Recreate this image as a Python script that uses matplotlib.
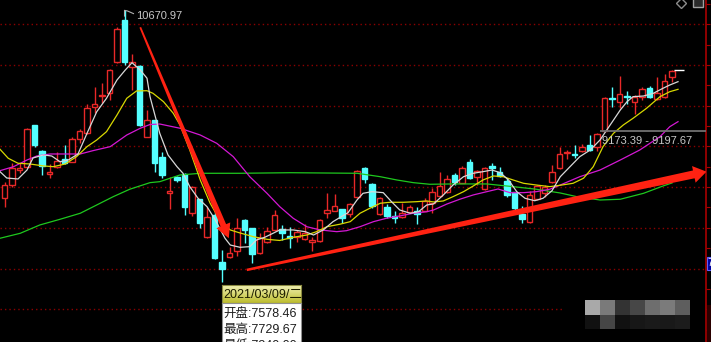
import matplotlib
matplotlib.use('Agg')
import matplotlib.pyplot as plt
from matplotlib.patches import Rectangle, Polygon
import numpy as np

# 日K数据 (从截图读取的近似值)
opens = [8370, 8526, 8710, 8744, 9259, 8947, 8661, 8751, 8845, 8812,
         9091, 9161, 9480, 9619, 9652, 10033, 10552, 9972, 9991, 9119,
         9324, 8874, 8428, 8628, 8661, 8179, 8351, 7884, 8158, 7578.46,
         7646, 7719, 8096, 7995, 7687, 7823, 7974, 7982, 7904, 7884,
         7859, 7823, 7842, 8179, 8211, 8228, 8166, 8375, 8731, 8538,
         8166, 8252, 8146, 8137, 8198, 8207, 8211, 8302, 8395, 8437,
         8653, 8554, 8805, 8628, 8473, 8763, 8690, 8575, 8437, 8166,
         8075, 8358, 8432, 8559, 8731, 8916, 8901, 8947, 9017, 8997,
         9193, 9591, 9542, 9625, 9549, 9611, 9714, 9579, 9611, 9849]
highs = [8567, 8800, 8800, 9225, 9265, 8955, 8784, 8935, 9017, 9119,
         9210, 9517, 9726, 9775, 9945, 10470, 10670.97, 10135, 10000, 9447,
         9330, 8935, 8628, 8640, 8670, 8510, 8360, 8260, 8219, 7729.67,
         7769, 8117, 8110, 8000, 7933, 8007, 8219, 8035, 8010, 7974,
         8047, 7884, 8110, 8432, 8416, 8235, 8300, 8710, 8751, 8555,
         8383, 8293, 8207, 8302, 8280, 8252, 8367, 8486, 8682, 8649,
         8670, 8760, 8842, 8710, 8751, 8793, 8744, 8608, 8445, 8272,
         8453, 8525, 8526, 8772, 8997, 8956, 9017, 9030, 9140, 9168,
         9611, 9726, 9865, 9684, 9632, 9726, 9742, 9856, 9889, 9940]
lows = [8252, 8502, 8670, 8730, 8997, 8649, 8616, 8731, 8790, 8805,
        9038, 9150, 9407, 9530, 9570, 10020, 10000, 9693, 9250, 9110,
        8690, 8612, 8228, 8563, 8158, 8146, 7995, 7875, 7615, 7340,
        7630, 7654, 7818, 7568, 7680, 7815, 7965, 7851, 7753, 7830,
        7850, 7719, 7830, 8121, 8205, 8063, 8133, 8365, 8547, 8240,
        8160, 8117, 8063, 8125, 8182, 8044, 8205, 8179, 8385, 8425,
        8526, 8545, 8600, 8526, 8465, 8588, 8625, 8383, 8219, 8056,
        8065, 8340, 8383, 8550, 8720, 8842, 8854, 8932, 8944, 8947,
        9190, 9488, 9468, 9521, 9398, 9570, 9600, 9570, 9600, 9795]
closes = [8526, 8731, 8735, 9214, 9017, 8763, 8690, 8817, 8800, 9091,
          9193, 9468, 9525, 9632, 9935, 10442, 10040, 10040, 9263, 9324,
          8800, 8649, 8449, 8588, 8260, 8505, 8063, 8137, 7626, 7491,
          7687, 7995, 7974, 7679, 7872, 7961, 8158, 7933, 7875, 7945,
          7933, 7851, 8096, 8219, 8272, 8117, 8293, 8702, 8600, 8268,
          8363, 8146, 8117, 8179, 8260, 8170, 8333, 8444, 8518, 8596,
          8567, 8739, 8608, 8702, 8731, 8739, 8637, 8403, 8240, 8105,
          8403, 8514, 8498, 8690, 8907, 8935, 8890, 8997, 8956, 9149,
          9591, 9580, 9640, 9612, 9603, 9701, 9611, 9660, 9807, 9930]

# 均线 (K线序号, 价格)
ma5_x = [-0.6, 0.3, 1.8, 3.0, 3.8, 5.2, 6.3, 7.4, 8.5, 9.8, 11.0, 12.3, 13.6, 15.0, 16.1, 17.0,
         18.1, 19.0, 19.4, 20.7, 21.8, 23.0, 23.8, 24.7, 25.8, 27.0, 28.1, 29.4, 30.1, 31.4,
         32.7, 33.6, 34.7, 35.8, 36.7, 38.5, 40.1, 41.2, 42.5, 43.8, 44.9, 45.8, 47.0, 47.8,
         49.0, 50.5, 51.6, 52.7, 54.1, 55.2, 56.3, 57.2, 58.5, 59.8, 61.2, 62.5, 63.8, 65.0,
         66.1, 67.2, 68.3, 69.4, 70.7, 71.8, 73.0, 74.1, 75.4, 76.7, 78.1, 79.4, 80.3, 81.2,
         82.1, 83.0, 83.8, 85.2, 86.5, 87.8, 88.7, 89.8]
ma5_y = [8690, 8612, 8600, 8710, 8858, 8895, 8882, 8812, 8833, 8907, 9161, 9426, 9591, 9816, 9938, 10028,
         9938, 9837, 9611, 9161, 8895, 8751, 8670, 8506, 8363, 8260, 8097, 7872, 7789, 7761,
         7769, 7851, 7884, 7933, 7974, 7974, 7953, 7912, 7974, 8076, 8137, 8186, 8342, 8424,
         8444, 8432, 8321, 8219, 8179, 8198, 8281, 8293, 8403, 8526, 8628, 8670, 8690, 8710,
         8677, 8588, 8444, 8363, 8333, 8363, 8456, 8628, 8751, 8874, 8956, 9079, 9202, 9324,
         9447, 9549, 9611, 9619, 9652, 9714, 9754, 9795]
ma10_x = [-0.6, 0.5, 1.8, 3.4, 5.2, 6.5, 8.1, 9.6, 11.0, 12.3, 13.6, 15.0, 16.3, 17.6, 19.0, 19.8,
          21.2, 22.5, 23.4, 24.7, 26.1, 27.4, 28.7, 30.1, 31.4, 33.2, 35.0, 36.7, 38.5, 40.3,
          41.6, 43.0, 44.7, 46.1, 47.4, 48.7, 50.1, 51.4, 53.2, 54.9, 56.3, 57.2, 58.5, 59.8,
          61.2, 62.5, 63.8, 65.2, 66.5, 67.8, 69.2, 70.9, 72.7, 74.1, 75.8, 77.2, 78.5, 79.8,
          81.2, 82.5, 83.8, 85.6, 87.4, 88.7, 89.8]
ma10_y = [8965, 8854, 8793, 8784, 8760, 8751, 8784, 8874, 8997, 9079, 9181, 9386, 9591, 9681, 9684, 9652,
          9549, 9407, 9263, 8956, 8588, 8305, 8097, 7974, 7937, 7891, 7859, 7845, 7884, 7912,
          7953, 8014, 8044, 8076, 8179, 8240, 8302, 8314, 8314, 8321, 8330, 8318, 8330, 8383,
          8444, 8514, 8588, 8637, 8628, 8588, 8547, 8526, 8506, 8523, 8547, 8609, 8751, 8997,
          9161, 9263, 9345, 9468, 9611, 9672, 9701]
ma20_x = [-0.6, 1.2, 3.0, 4.3, 6.1, 8.3, 10.1, 11.8, 14.1, 16.3, 18.1, 19.4, 20.7, 23.4, 26.1,
          28.3, 30.5, 32.7, 35.0, 36.7, 38.5, 40.3, 42.1, 44.3, 45.6, 47.4, 49.2, 50.9, 52.7,
          54.5, 56.3, 57.2, 59.0, 60.7, 62.5, 64.3, 65.8, 67.4, 69.2, 70.9, 72.7, 74.1, 76.7,
          79.4, 82.1, 84.7, 87.4, 88.7, 89.8]
ma20_y = [8702, 8751, 8833, 8882, 8907, 8907, 8907, 8948, 8997, 9140, 9223, 9269, 9275, 9223, 9140,
          9038, 8874, 8628, 8424, 8260, 8117, 8014, 7974, 7953, 7965, 8014, 8076, 8117, 8146,
          8179, 8198, 8219, 8293, 8351, 8404, 8444, 8477, 8432, 8432, 8444, 8474, 8526, 8628,
          8710, 8833, 8956, 9120, 9242, 9304]
ma60_x = [-0.6, 2.1, 4.7, 7.4, 10.1, 12.3, 14.5, 16.7, 19.4, 20.7, 23.4, 26.1, 31.4, 38.1, 47.0,
          50.1, 52.3, 54.5, 56.7, 59.8, 64.3, 67.8, 70.9, 74.1, 76.3, 79.4, 82.1, 85.2, 87.8, 89.0]
ma60_y = [7872, 7933, 8035, 8105, 8179, 8281, 8383, 8474, 8555, 8567, 8649, 8670, 8670, 8677, 8670,
          8628, 8588, 8555, 8535, 8539, 8539, 8506, 8474, 8428, 8383, 8342, 8351, 8424, 8514, 8551]

grid_levels = [10500, 10000, 9500, 9000, 8500, 8000, 7500, 7000]
peak_label = '10670.97'
range_label = '9173.39 - 9197.67'
range_price = 9185
tip_date = '2021/03/09/二'
tip_rows = ['开盘:7578.46', '最高:7729.67', '最低:7340.00']
tip_idx = 29

# 下跌箭头 / 上升箭头 (起点, 终点)
arrow_down = ((18.1, 10463), (29.9, 7872))
arrow_up = ((32.3, 7483), (93.6, 8690))

RED = '#e82828'
CYAN = '#54ffff'
AXRED = '#a80000'
W, H = 711, 342

fig = plt.figure(figsize=(W / 100, H / 100), dpi=100, facecolor='black')
ax = fig.add_axes([0, 0, 705.7 / W, 1], facecolor='black')
ax.set_xlim(-0.6, 93.49)
ax.set_ylim(6598, 10798)

for s in ['top', 'left', 'bottom']:
    ax.spines[s].set_visible(False)
ax.spines['right'].set_color(AXRED)
ax.spines['right'].set_linewidth(1.2)
ax.yaxis.tick_right()
ax.set_xticks([])
ax.set_yticks(np.arange(6750, 10751, 250))
ax.tick_params(axis='y', direction='out', length=3, color=AXRED, labelright=False)

# 网格
for lv in grid_levels:
    xmax = 562 / 705.7 if lv == 7000 else 1
    ax.axhline(lv, xmax=xmax, color='#8c0000', lw=1, ls=(0, (1, 2.2)), zorder=1)

# K线
bw = 0.72
for i, (o, h, l, c) in enumerate(zip(opens, highs, lows, closes)):
    up = c >= o
    col = RED if up else CYAN
    bot = min(o, c)
    bh = max(abs(c - o), 12)
    ax.vlines(i, l, h, color=col, lw=1, zorder=2)
    ax.add_patch(Rectangle((i - bw / 2, bot), bw, bh, facecolor='black' if up else CYAN,
                           edgecolor=col, lw=1, zorder=3))

# 均线
ax.plot(ma60_x, ma60_y, color='#1ec81e', lw=0.9, zorder=4)
ax.plot(ma20_x, ma20_y, color='#d418d4', lw=0.9, zorder=4)
ax.plot(ma10_x, ma10_y, color='#d8d800', lw=0.9, zorder=4)
ax.plot(ma5_x, ma5_y, color='#d8d8d8', lw=0.9, zorder=4)

# 最高价标记
hp = highs[16]
ax.plot([16, 16, 16.4, 17.2], [hp - 70, hp, hp - 8, hp - 40], color='#b0b0b0', lw=0.8, zorder=5)
ax.text(17.5, hp - 65, peak_label, color='#c8c8c8', fontsize=8, va='center',
        family='Liberation Sans', zorder=5)

# 区间标记
ax.hlines(range_price, 79.4, 93.49, color='#707070', lw=1.3, zorder=5)
ax.text(79.6, range_price - 115, range_label, color='#c8c8c8', fontsize=8, va='center',
        family='Liberation Sans', zorder=5)
ax.hlines(closes[-1] + 5, 89.3, 90.6, color='white', lw=1, zorder=5)


def draw_arrow(p0, p1, w0, w1, hw, hl):
    a = ax.transData.transform(p0)
    b = ax.transData.transform(p1)
    d = b - a
    u = d / np.hypot(*d)
    n = np.array([-u[1], u[0]])
    base = b - u * hl
    pts = np.array([a + n * w0 / 2, base + n * w1 / 2, base + n * hw / 2, b,
                    base - n * hw / 2, base - n * w1 / 2, a - n * w0 / 2])
    ax.add_patch(Polygon(ax.transData.inverted().transform(pts), closed=True,
                         facecolor='#ff2212', edgecolor='none', zorder=6))


draw_arrow(arrow_down[0], arrow_down[1], 1.8, 6, 15, 14)
draw_arrow(arrow_up[0], arrow_up[1], 2.5, 8, 17, 13)


def fx(x):
    return x / W


def fy(y):
    return 1 - y / H


# 提示框
left = ax.transData.transform((tip_idx, 0))[0]
hx = fig.add_axes([fx(left), fy(303.3), fx(300.7 - left), (303.3 - 285) / H])
grad = np.linspace(0, 1, 40)[:, None, None]
top_c = np.array([0.96, 0.96, 0.74])
bot_c = np.array([0.74, 0.74, 0.18])
hx.imshow(top_c + (bot_c - top_c) * grad, aspect='auto', extent=[0, 1, 0, 1])
hx.set_xticks([])
hx.set_yticks([])
for s in hx.spines.values():
    s.set_color('#8a8a40')
    s.set_linewidth(0.8)
fig.add_artist(Rectangle((fx(left), 0), fx(300.7 - left), fy(303.3), facecolor='white',
                         edgecolor='#909090', lw=0.8, transform=fig.transFigure))
fam = ['Liberation Sans', 'Noto Sans CJK SC']
fig.text(fx(left + 1.5), fy(294.5), tip_date, fontsize=9, color='#1e1e00', va='center', family=fam)
for k, row in enumerate(tip_rows):
    fig.text(fx(left + 1.5), fy(314.3 + 15.7 * k), row, fontsize=9, color='#1e1e1e',
             va='center', family=fam)

# 马赛克水印
wm_top = ['#a9a9a9', '#7a7a7a', '#333333', '#474747', '#6e6e6e', '#7b7b7b', '#5e5e5e']
wm_bot = ['#111111', '#464646', '#111111', '#171717', '#1a1a1a', '#191919', '#1c1c1c']
for j in range(7):
    x0 = 585 + 15 * j
    fig.add_artist(Rectangle((fx(x0), fy(315)), 15 / W, 15 / H, facecolor=wm_top[j],
                             edgecolor='none', transform=fig.transFigure))
    fig.add_artist(Rectangle((fx(x0), fy(329.3)), 15 / W, 14.3 / H, facecolor=wm_bot[j],
                             edgecolor='none', transform=fig.transFigure))

# 右侧价签
fig.add_artist(Rectangle((fx(706.5), 0), 5 / W, fy(305), facecolor='#2a0000',
                         edgecolor='none', transform=fig.transFigure))
fig.add_artist(Rectangle((fx(706.5), fy(270)), 5 / W, 13.3 / H, facecolor='#0000a0',
                         edgecolor='#6060ff', lw=0.8, transform=fig.transFigure))
fig.text(fx(707.3), fy(263.5), '7', fontsize=7, color='white', va='center', family='Liberation Sans')

# 右上角图标
ax.plot([fx(681) * W / 705.7], [fy(3)], marker='D', ms=5, mfc='none', mec='#8c8c8c',
        transform=ax.transAxes, clip_on=False, zorder=7)
ax.plot([fx(698) * W / 705.7], [fy(2)], marker='s', ms=7, mfc='#2a2a2a', mec='#a0a0a0',
        transform=ax.transAxes, clip_on=False, zorder=7)

fig.savefig('out.png', dpi=100, facecolor='black')
